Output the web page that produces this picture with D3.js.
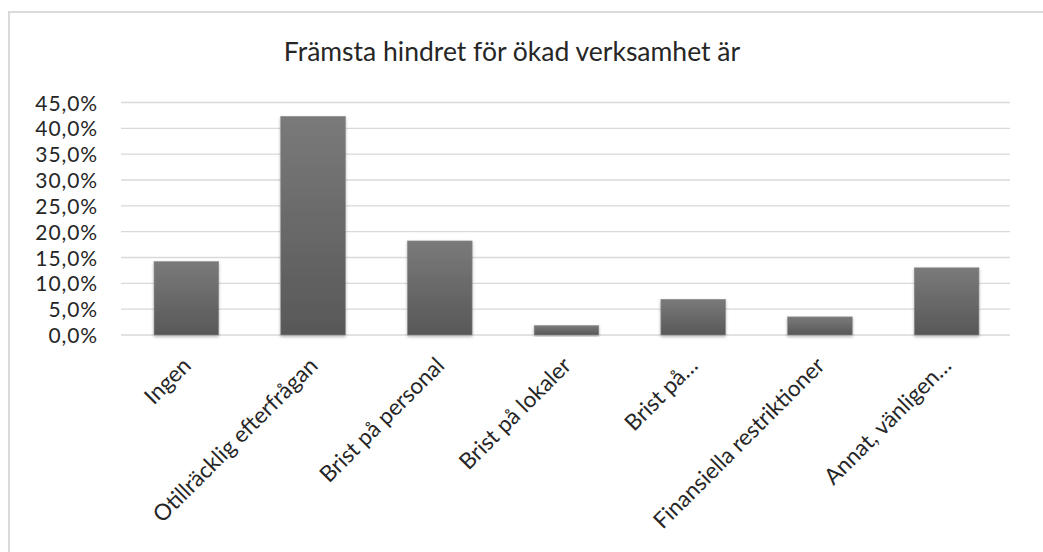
<!DOCTYPE html>
<html>
<head>
<meta charset="utf-8">
<script src="https://cdn.jsdelivr.net/npm/d3@7"></script>
<style>
  html, body { margin: 0; padding: 0; background: #fff; }
  svg { display: block; }
  text { font-family: Lato, "Noto Sans", sans-serif; fill: #262626; }
</style>
</head>
<body>
<svg id="chart" width="1043" height="552"></svg>
<script>
// Survey answers: main obstacle for increased activity
const categories = [
  "Ingen",
  "Otillräcklig efterfrågan",
  "Brist på personal",
  "Brist på lokaler",
  "Brist på…",
  "Finansiella restriktioner",
  "Annat, vänligen…"
];
const shares = [0.142, 0.423, 0.182, 0.018, 0.069, 0.035, 0.130];
const yTicks = [0, 0.05, 0.10, 0.15, 0.20, 0.25, 0.30, 0.35, 0.40, 0.45];
const title = "Främsta hindret för ökad verksamhet är";

const W = 1043, H = 552;
const svg = d3.select("#chart");

// Swedish number format: decimal comma
const sv = d3.formatLocale({ decimal: ",", thousands: "\u00a0", grouping: [3], currency: ["", " kr"] });
const pct = sv.format(".1%");

const plot = { left: 123, right: 1010, top: 102.5, bottom: 335 };

const x = d3.scaleBand()
  .domain(categories)
  .range([plot.left, plot.right])
  .paddingInner(0.49)
  .paddingOuter(0.245);

const y = d3.scaleLinear()
  .domain([0, 0.45])
  .range([plot.bottom, plot.top]);

// Chart frame
svg.append("rect")
  .attr("x", 9).attr("y", 12)
  .attr("width", W + 20).attr("height", H + 20)
  .attr("fill", "#fff")
  .attr("stroke", "#d9d9d9")
  .attr("stroke-width", 2);

// Defs: bar gradient and soft shadow
const defs = svg.append("defs");
const grad = defs.append("linearGradient")
  .attr("id", "barFill").attr("x1", 0).attr("y1", 0).attr("x2", 0).attr("y2", 1);
grad.append("stop").attr("offset", "0%").attr("stop-color", "#7a7a7a");
grad.append("stop").attr("offset", "100%").attr("stop-color", "#585858");

const shadow = defs.append("filter")
  .attr("id", "barShadow")
  .attr("x", "-30%").attr("y", "-10%").attr("width", "160%").attr("height", "130%");
shadow.append("feDropShadow")
  .attr("dx", 0).attr("dy", 1.5)
  .attr("stdDeviation", 1.5)
  .attr("flood-color", "#000")
  .attr("flood-opacity", 0.3);

// Title
svg.append("text")
  .attr("x", 512).attr("y", 61)
  .attr("text-anchor", "middle")
  .style("font-size", "26.5px")
  .text(title);

// Gridlines
const grid = svg.append("g").attr("class", "grid");
grid.selectAll("line")
  .data(yTicks)
  .join("line")
  .attr("x1", plot.left - 2).attr("x2", plot.right)
  .attr("y1", d => y(d)).attr("y2", d => y(d))
  .attr("stroke", "#d9d9d9")
  .attr("stroke-width", 1.4);

// Y axis labels
const yAxis = d3.axisLeft(y)
  .tickValues(yTicks)
  .tickFormat(pct)
  .tickSize(0)
  .tickPadding(0);
const yg = svg.append("g")
  .attr("transform", `translate(${plot.left - 25},0)`)
  .call(yAxis);
yg.select(".domain").remove();
yg.selectAll("text")
  .style("font-size", "21px")
  .style("letter-spacing", "0.9px")
  .attr("fill", "#262626")
  .attr("dy", "0.36em");

// Bars
svg.append("g")
  .selectAll("rect")
  .data(categories.map((c, i) => ({ c, v: shares[i] })))
  .join("rect")
  .attr("x", d => x(d.c))
  .attr("y", d => y(d.v))
  .attr("width", x.bandwidth())
  .attr("height", d => y(0) - y(d.v))
  .attr("fill", "url(#barFill)")
  .attr("stroke", "#8a8a8a")
  .attr("stroke-width", 0.6)
  .attr("filter", "url(#barShadow)");

// Category labels, rotated
const xAxis = d3.axisBottom(x).tickSize(0).tickPadding(0);
const xg = svg.append("g")
  .attr("transform", `translate(0,${plot.bottom})`)
  .call(xAxis);
xg.select(".domain").remove();
xg.selectAll("text")
  .style("font-size", "22.5px")
  .attr("fill", "#262626")
  .attr("text-anchor", "end")
  .attr("dy", null)
  .attr("y", null)
  .attr("transform", "translate(6,32) rotate(-45)");
</script>
</body>
</html>
